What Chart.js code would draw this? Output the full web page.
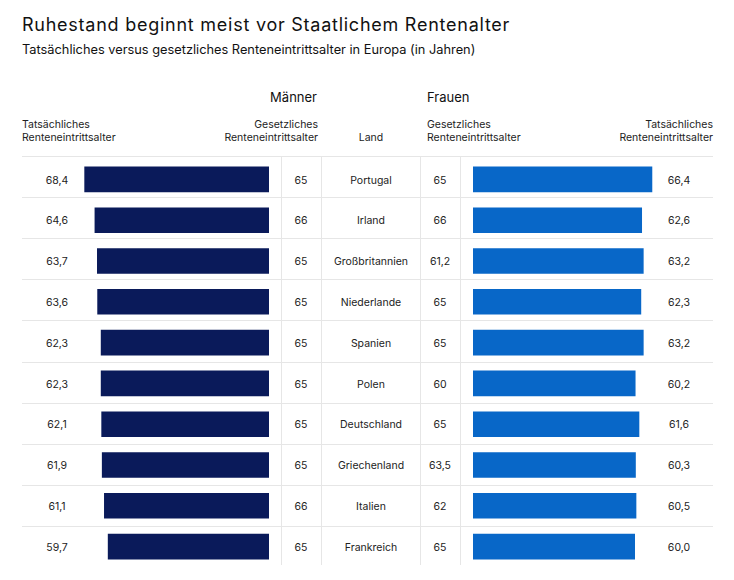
<!DOCTYPE html>
<html>
<head>
<meta charset="utf-8">
<script src="https://cdn.jsdelivr.net/npm/chart.js@4/dist/chart.umd.min.js"></script>
<style>
  body { margin: 0; background: #fff; font-family: Inter, "Noto Sans", sans-serif; color: #1a1a1a; }
  #wrap { position: relative; width: 734px; height: 580px; overflow: hidden; }
  .t { position: absolute; white-space: nowrap; }
  .title { left: 22px; top: 14px; font-size: 18px; letter-spacing: 0.75px; color: #111; }
  .sub { left: 22px; top: 41.5px; font-size: 12.8px; color: #111; }
  .grp { top: 89px; font-size: 13px; color: #111; }
  .hd { top: 118px; font-size: 10.5px; line-height: 13px; color: #222; }
  .cell { font-size: 10.5px; color: #222; transform: translate(-50%, -50%); }
  .hline { position: absolute; left: 22px; width: 691px; height: 1px; background: #e6e6e6; }
  .vline { position: absolute; width: 1px; background: #e6e6e6; }
  canvas { position: absolute; }
</style>
</head>
<body>
<div id="wrap">
  <div class="t title">Ruhestand beginnt meist vor Staatlichem Rentenalter</div>
  <div class="t sub">Tatsächliches versus gesetzliches Renteneintrittsalter in Europa (in Jahren)</div>
  <div class="t grp" style="right:417px">Männer</div>
  <div class="t grp" style="left:427px">Frauen</div>
  <div class="t hd" style="left:22px">Tatsächliches<br>Renteneintrittsalter</div>
  <div class="t hd" style="right:416px;text-align:right">Gesetzliches<br>Renteneintrittsalter</div>
  <div class="t hd" style="left:371px;top:131px;transform:translateX(-50%)">Land</div>
  <div class="t hd" style="left:427px">Gesetzliches<br>Renteneintrittsalter</div>
  <div class="t hd" style="right:21px;text-align:right">Tatsächliches<br>Renteneintrittsalter</div>
  <canvas id="men"></canvas>
  <canvas id="women"></canvas>
</div>
<script>
const countries = ['Portugal', 'Irland', 'Großbritannien', 'Niederlande', 'Spanien', 'Polen', 'Deutschland', 'Griechenland', 'Italien', 'Frankreich'];
const menActual = [68.4, 64.6, 63.7, 63.6, 62.3, 62.3, 62.1, 61.9, 61.1, 59.7];
const menLegal = [65, 66, 65, 65, 65, 65, 65, 65, 66, 65];
const womenLegal = [65, 66, 61.2, 65, 65, 60, 65, 63.5, 62, 65];
const womenActual = [66.4, 62.6, 63.2, 62.3, 63.2, 60.2, 61.6, 60.3, 60.5, 60.0];

const wrap = document.getElementById('wrap');
// grid lines sit on a slightly wider pitch than the bars
const lineTop = 156, lineH = 41.1;
const barTop = 159.1, barRowH = 40.8;
const scaleMax = 70, pxPerYear = 2.705;
const barW = scaleMax * pxPerYear;

const fmtActual = v => v.toFixed(1).replace('.', ',');
const fmtLegal = v => Number.isInteger(v) ? String(v) : v.toFixed(1).replace('.', ',');

function addEl(cls, style, text) {
  const d = document.createElement('div');
  d.className = cls;
  Object.assign(d.style, style);
  if (text !== undefined) d.textContent = text;
  wrap.appendChild(d);
}

// ----------------- table grid -----------------
for (let i = 0; i < countries.length; i++) {
  addEl('hline', { top: (lineTop + i * lineH) + 'px' });
}
[281, 321, 420, 460].forEach(x => {
  addEl('vline', { left: x + 'px', top: lineTop + 'px', height: '409px' });
});

// ----------------- cell texts -----------------
countries.forEach((c, i) => {
  const y = (barTop + (i + 0.5) * barRowH) + 'px';
  addEl('t cell', { left: '57px', top: y }, fmtActual(menActual[i]));
  addEl('t cell', { left: '301px', top: y }, fmtLegal(menLegal[i]));
  addEl('t cell', { left: '371px', top: y }, c);
  addEl('t cell', { left: '440px', top: y }, fmtLegal(womenLegal[i]));
  addEl('t cell', { left: '679px', top: y }, fmtActual(womenActual[i]));
});

// ----------------- bar charts -----------------
function makeChart(id, left, data, color, reverse) {
  const cv = document.getElementById(id);
  const h = barRowH * countries.length;
  cv.width = barW;
  cv.height = h;
  cv.style.left = left + 'px';
  cv.style.top = barTop + 'px';
  cv.style.width = barW + 'px';
  cv.style.height = h + 'px';
  return new Chart(cv, {
    type: 'bar',
    data: {
      labels: countries,
      datasets: [{
        data,
        backgroundColor: color,
        borderWidth: 0,
        barPercentage: 0.627,
        categoryPercentage: 1
      }]
    },
    options: {
      indexAxis: 'y',
      responsive: false,
      animation: false,
      layout: { padding: 0 },
      plugins: { legend: { display: false }, tooltip: { enabled: false } },
      scales: {
        x: { display: false, min: 0, max: scaleMax, reverse },
        y: { display: false }
      }
    }
  });
}

makeChart('men', 269 - barW, menActual, '#0a1a5a', true);
makeChart('women', 473, womenActual, '#0867c8', false);
</script>
</body>
</html>
